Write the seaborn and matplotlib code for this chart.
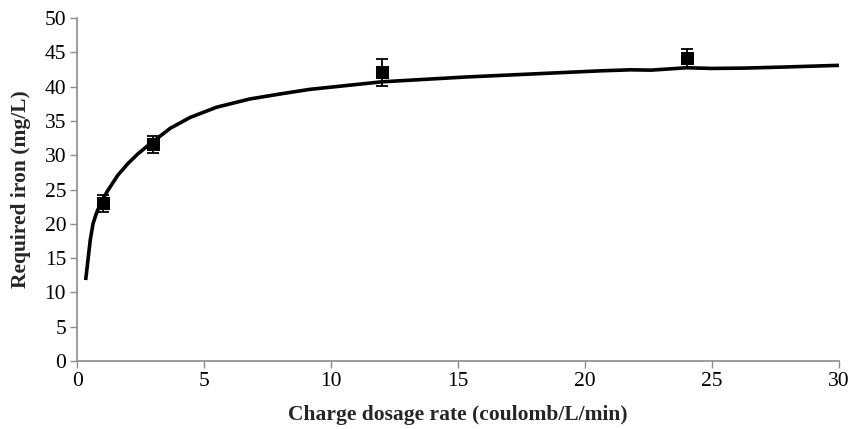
import matplotlib
matplotlib.use("Agg")
import matplotlib.pyplot as plt
import seaborn as sns
import pandas as pd

# Measured points
dose = [1, 3, 12, 24]
iron = [23.0, 31.6, 42.1, 44.1]
iron_err = [1.25, 1.25, 1.95, 1.35]

# Fitted curve
curve_x = [0.33, 0.42, 0.51, 0.62, 0.75, 0.94, 1.21, 1.60, 2.0, 2.39, 2.78,
           3.2, 3.65, 4.44, 5.49, 6.8, 8.11, 9.16, 12.0, 15.3, 20.6, 21.8,
           22.6, 24.0, 25.0, 26.3, 27.8, 29.1, 30.0]
curve_y = [11.8, 14.7, 17.6, 20.0, 21.5, 23.2, 24.9, 27.1, 28.8, 30.2, 31.4,
           32.6, 33.9, 35.5, 37.0, 38.2, 39.0, 39.6, 40.7, 41.4, 42.3, 42.45,
           42.4, 42.75, 42.65, 42.7, 42.85, 43.0, 43.1]

xticks = [0, 5, 10, 15, 20, 25, 30]
yticks = [0, 5, 10, 15, 20, 25, 30, 35, 40, 45, 50]

sns.set_theme(style="white")
plt.rcParams['font.family'] = ['Liberation Serif', 'DejaVu Serif']

fig = plt.figure(figsize=(8.51, 4.29), dpi=100)
ax = fig.add_axes([0.0908, 0.1585, 0.895, 0.7995])

df_curve = pd.DataFrame({"x": curve_x, "y": curve_y})
sns.lineplot(data=df_curve, x="x", y="y", ax=ax, color="black", linewidth=2.6,
             sort=False, estimator=None, solid_joinstyle="round",
             solid_capstyle="butt")

ax.errorbar(dose, iron, yerr=iron_err, fmt="none", ecolor="black",
            elinewidth=1.3, capsize=4, capthick=1.3, zorder=3)
df_pts = pd.DataFrame({"x": dose, "y": iron})
sns.scatterplot(data=df_pts, x="x", y="y", ax=ax, marker="s", s=85,
                color="black", edgecolor="black", zorder=4)

ax.set_xlim(0, 30)
ax.set_ylim(0, 50)
ax.set_xticks(xticks)
ax.set_yticks(yticks)
ax.tick_params(axis="both", which="major", labelsize=15.5, direction="out",
               length=5, width=1, color="#8c8c8c", left=True, bottom=True,
               labelcolor="black", pad=3)
for s in ["top", "right"]:
    ax.spines[s].set_visible(False)
for s in ["left", "bottom"]:
    ax.spines[s].set_color("#8c8c8c")
    ax.spines[s].set_linewidth(1.2)

ax.set_xlabel("Charge dosage rate (coulomb/L/min)", fontsize=15.5,
              fontweight="bold", labelpad=10)
ax.set_ylabel("Required iron (mg/L)", fontsize=15.5, fontweight="bold",
              labelpad=10)
ax.grid(False)

fig.savefig("out.png", dpi=100)
